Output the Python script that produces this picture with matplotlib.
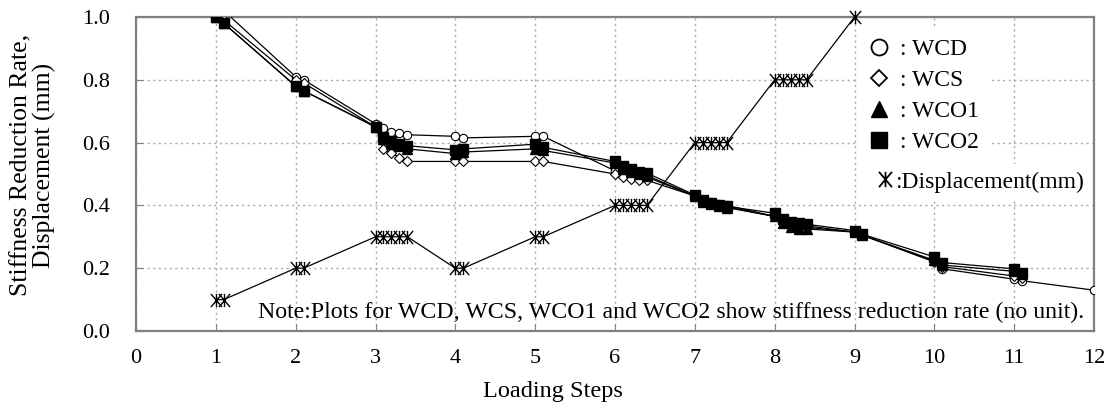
import matplotlib
matplotlib.use("Agg")
import matplotlib.pyplot as plt
from matplotlib.lines import Line2D
from matplotlib.path import Path

plt.rcParams['font.family'] = ['Liberation Serif', 'DejaVu Serif']

steps = [1, 1.1, 2, 2.1, 3, 3.1, 3.2, 3.3, 3.4, 4, 4.1, 5, 5.1,
         6, 6.1, 6.2, 6.3, 6.4, 7, 7.1, 7.2, 7.3, 7.4,
         8, 8.1, 8.2, 8.3, 8.4, 9, 9.1, 10, 10.1, 11, 11.1]
wcd_steps = steps + [12]
wcd = [1.0, 1.02, 0.81, 0.80, 0.66, 0.645, 0.635, 0.63, 0.625, 0.62, 0.615, 0.62, 0.62,
       0.51, 0.50, 0.495, 0.49, 0.49, 0.43, 0.415, 0.41, 0.405, 0.40,
       0.365, 0.35, 0.345, 0.34, 0.335, 0.315, 0.305, 0.222, 0.198, 0.165, 0.16, 0.13]
wcs = [1.0, 0.99, 0.80, 0.79, 0.65, 0.58, 0.567, 0.552, 0.54, 0.54, 0.54, 0.54, 0.54,
       0.50, 0.49, 0.485, 0.48, 0.48, 0.43, 0.415, 0.405, 0.40, 0.395,
       0.365, 0.345, 0.335, 0.33, 0.33, 0.315, 0.305, 0.22, 0.205, 0.175, 0.17]
wco1 = [1.0, 0.98, 0.78, 0.765, 0.65, 0.61, 0.595, 0.588, 0.58, 0.565, 0.57, 0.58, 0.575,
        0.535, 0.515, 0.505, 0.50, 0.495, 0.43, 0.41, 0.403, 0.398, 0.393,
        0.365, 0.345, 0.33, 0.325, 0.325, 0.315, 0.305, 0.225, 0.21, 0.19, 0.18]
wco2 = [1.0, 0.98, 0.78, 0.765, 0.65, 0.618, 0.605, 0.597, 0.59, 0.577, 0.58, 0.595, 0.585,
        0.54, 0.525, 0.515, 0.507, 0.503, 0.433, 0.418, 0.408, 0.402, 0.397,
        0.375, 0.358, 0.348, 0.343, 0.34, 0.32, 0.308, 0.236, 0.218, 0.198, 0.185]
disp_steps = [1, 1.1, 2, 2.1, 3, 3.1, 3.2, 3.3, 3.4, 4, 4.1, 5, 5.1,
              6, 6.1, 6.2, 6.3, 6.4, 7, 7.1, 7.2, 7.3, 7.4,
              8, 8.1, 8.2, 8.3, 8.4, 9]
disp = [0.1, 0.1, 0.2, 0.2, 0.3, 0.3, 0.3, 0.3, 0.3, 0.2, 0.2, 0.3, 0.3,
        0.4, 0.4, 0.4, 0.4, 0.4, 0.6, 0.6, 0.6, 0.6, 0.6,
        0.8, 0.8, 0.8, 0.8, 0.8, 1.0]

xticks = list(range(0, 13))
yticks = [0.0, 0.2, 0.4, 0.6, 0.8, 1.0]
note = "Note:Plots for WCD, WCS, WCO1 and WCO2 show stiffness reduction rate (no unit)."

# Excel-like star marker: vertical bar plus an X
star = Path([(0, -1), (0, 1), (-0.85, -1), (0.85, 1), (-0.85, 1), (0.85, -1)],
            [Path.MOVETO, Path.LINETO, Path.MOVETO, Path.LINETO, Path.MOVETO, Path.LINETO])

fig = plt.figure(figsize=(11.07, 4.05), dpi=100)
ax = fig.add_axes([136/1107, 1-331/405, (1094-136)/1107, (331-17)/405])

lw = 0.9
ax.plot(disp_steps, disp, color='black', lw=lw, marker=star, ms=9.5, mew=1.0,
        mec='black', clip_on=False, zorder=3)
ax.plot(wcd_steps, wcd, color='black', lw=lw, marker='o', ms=6, mfc='white', mec='black',
        mew=0.8, zorder=4)
ax.plot(steps, wcs, color='black', lw=lw, marker='D', ms=5, mfc='white', mec='black',
        mew=0.8, zorder=4)
ax.plot(steps, wco1, color='black', lw=lw, marker='^', ms=7.5, mfc='black', mec='black',
        zorder=5)
ax.plot(steps, wco2, color='black', lw=lw, marker='s', ms=7.2, mfc='black', mec='black',
        zorder=6)

ax.set_xlim(0, 12)
ax.set_ylim(0, 1.0)
ax.set_xticks(xticks)
ax.set_yticks(yticks)
ax.set_xticklabels([str(t) for t in xticks], fontsize=16)
ax.set_yticklabels([f"{t:.1f}" for t in yticks], fontsize=16)
ax.tick_params(direction='in', length=5, color='#808080')
ax.tick_params(axis='x', pad=13)
ax.tick_params(axis='y', pad=18.5)
ax.grid(True, color='#a8a8a8', linestyle=(0, (1.5, 2.5)), lw=1.0)
ax.set_axisbelow(True)
for s in ax.spines.values():
    s.set_color('#808080')
    s.set_linewidth(1.6)

ax.set_xlabel("Loading Steps", fontsize=17.5)
ax.xaxis.label.set_horizontalalignment('left')
ax.xaxis.label.set_verticalalignment('baseline')
ax.xaxis.set_label_coords((483-136)/958, -(397-331)/314)

ax.set_ylabel("Stiffness Reduction Rate,\nDisplacement (mm)", fontsize=18.5,
              linespacing=1.0)
ax.yaxis.set_label_coords(-(136-56)/958, (331-165)/314)

ax.text(1.525, (331-318)/314, note, fontsize=17.2, va='baseline', ha='left', zorder=7)

handles1 = [
    Line2D([], [], ls='none', marker='o', ms=11.5, mfc='white', mec='black', mew=1.3),
    Line2D([], [], ls='none', marker='D', ms=8.5, mfc='white', mec='black', mew=1.3),
    Line2D([], [], ls='none', marker='^', ms=12, mfc='black', mec='black'),
    Line2D([], [], ls='none', marker='s', ms=11.5, mfc='black', mec='black'),
]
labels1 = [": WCD", ": WCS", ": WCO1", ": WCO2"]
leg1 = ax.legend(handles1, labels1, loc='upper left',
                 bbox_to_anchor=((858-136)/958, (331-27)/314),
                 fontsize=17, frameon=True, framealpha=1, facecolor='white',
                 edgecolor='none', handlelength=0.8, handletextpad=0.5,
                 labelspacing=0.4, borderpad=0.5, borderaxespad=0)
leg1.set_zorder(8)
ax.add_artist(leg1)

handles2 = [Line2D([], [], ls='none', marker=star, ms=11, mec='black', mew=1.3)]
leg2 = ax.legend(handles2, [":Displacement(mm)"], loc='upper left',
                 bbox_to_anchor=((870-136)/958, (331-164)/314),
                 fontsize=17, frameon=True, framealpha=1, facecolor='white',
                 edgecolor='none', handlelength=0.7, handletextpad=0.05,
                 borderpad=0.3, borderaxespad=0)
leg2.set_zorder(8)

fig.savefig("out.png", dpi=100)
